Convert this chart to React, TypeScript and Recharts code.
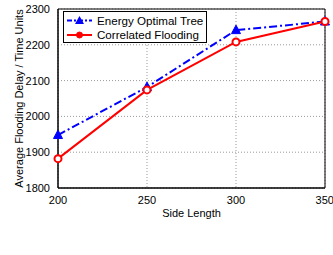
import React from 'react';
import {
  LineChart,
  Line,
  XAxis,
  YAxis,
  CartesianGrid,
  ReferenceArea,
  Legend,
} from 'recharts';

const sideLengths = [200, 250, 300, 350];
const energyOptimalTree = [1948, 2082, 2241, 2265];
const correlatedFlooding = [1882, 2074, 2208, 2265];
const yTicks = [1800, 1900, 2000, 2100, 2200, 2300];

const data = sideLengths.map((s, i) => ({
  side: s,
  tree: energyOptimalTree[i],
  flood: correlatedFlooding[i],
}));

const font = '"Liberation Sans", Arial, sans-serif';

// matlab-ish filled triangle marker
const TriangleDot = (props: any) => {
  const { cx, cy } = props;
  if (cx == null || cy == null) return null;
  return (
    <polygon
      key={`t-${cx}`}
      points={`${cx},${cy - 5} ${cx - 4.5},${cy + 3.5} ${cx + 4.5},${cy + 3.5}`}
      fill="#0000ff"
      stroke="#0000ff"
    />
  );
};

const LegendBox = () => (
  <div
    style={{
      border: '1px solid #000',
      background: '#fff',
      width: 144,
      height: 32,
      fontFamily: font,
      color: '#000',
      boxSizing: 'border-box',
    }}
  >
    <svg width={142} height={30} style={{ display: 'block' }}>
      <line x1={3} y1={8.5} x2={28} y2={8.5} stroke="#0000ff" strokeWidth={2} strokeDasharray="5 2 2 2" />
      <polygon points="15.5,4 11,12 20,12" fill="#0000ff" />
      <text x={33} y={12.5} fontSize={11.6} fontFamily={font}>Energy Optimal Tree</text>
      <line x1={3} y1={23} x2={28} y2={23} stroke="#ff0000" strokeWidth={2} />
      <circle cx={15.5} cy={23} r={3} fill="#ff0000" stroke="#ff0000" />
      <text x={33} y={27} fontSize={11.6} fontFamily={font}>Correlated Flooding</text>
    </svg>
  </div>
);

export default function App() {
  return (
    <div style={{ position: 'absolute', left: 0, top: 0, background: '#fff' }}>
      <LineChart
        width={333}
        height={255}
        data={data}
        margin={{ top: 9, right: 8, left: 0, bottom: 0 }}
      >
        <CartesianGrid stroke="#999" strokeDasharray="1 2" />
        <XAxis
          dataKey="side"
          type="number"
          domain={[200, 350]}
          ticks={sideLengths}
          height={35}
          tickLine={false}
          axisLine={{ stroke: '#000' }}
          tick={{ fontSize: 11, fill: '#000', fontFamily: font }}
          tickMargin={2}
          label={{
            value: 'Side Length',
            position: 'insideBottom',
            offset: 6,
            style: { fontSize: 11, fill: '#000', fontFamily: font },
          }}
        />
        <YAxis
          type="number"
          domain={[1800, 2300]}
          ticks={yTicks}
          width={58}
          tickLine={false}
          axisLine={{ stroke: '#000' }}
          tick={{ fontSize: 11, fill: '#000', fontFamily: font }}
          tickMargin={2}
          label={{
            value: 'Average Flooding Delay / Time Units',
            angle: -90,
            position: 'insideLeft',
            offset: 19,
            style: { fontSize: 11, fill: '#000', fontFamily: font, textAnchor: 'middle' },
          }}
        />
        <ReferenceArea
          x1={200}
          x2={350}
          y1={1800}
          y2={2300}
          fill="none"
          fillOpacity={0}
          stroke="#000"
          strokeWidth={1}
        />
        <Legend
          content={<LegendBox />}
          wrapperStyle={{ position: 'absolute', left: 63, top: 11, width: 144 }}
        />
        <Line
          type="linear"
          dataKey="tree"
          stroke="#0000ff"
          strokeWidth={2}
          strokeDasharray="8 3 2 3"
          dot={<TriangleDot />}
          isAnimationActive={false}
        />
        <Line
          type="linear"
          dataKey="flood"
          stroke="#ff0000"
          strokeWidth={2}
          dot={{ r: 3.5, stroke: '#ff0000', strokeWidth: 2, fill: '#fff' }}
          isAnimationActive={false}
        />
      </LineChart>
    </div>
  );
}
